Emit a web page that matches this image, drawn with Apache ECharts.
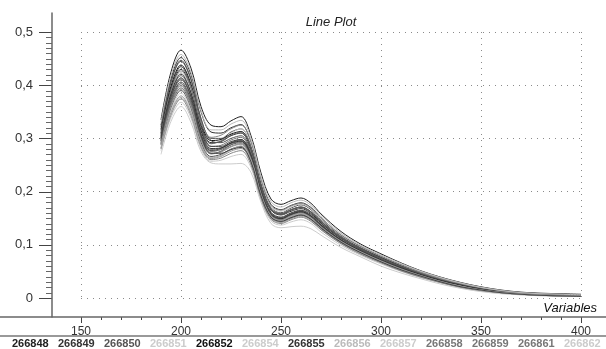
<!DOCTYPE html>
<html>
<head>
<meta charset="utf-8">
<script src="https://cdn.jsdelivr.net/npm/echarts@6/dist/echarts.min.js"></script>
<style>
html,body{margin:0;padding:0;background:#fff;}
#chart{width:606px;height:349px;}
</style>
</head>
<body>
<div id="chart"></div>
<script>
// ---- data ----
const wavelengths = [190,195,200,205,210,215,220,225,230,235,240,245,250,255,260,265,270,280,290,300,310,320,330,340,350,360,370,380,390,400];

const s266848 = [0.335,0.425,0.466,0.432,0.360,0.325,0.322,0.333,0.341,0.305,0.235,0.186,0.176,0.183,0.188,0.178,0.158,0.125,0.101,0.083,0.066,0.051,0.039,0.029,0.021,0.015,0.011,0.009,0.008,0.007];
const s266849 = [0.325,0.412,0.452,0.420,0.350,0.312,0.310,0.320,0.326,0.292,0.222,0.176,0.166,0.174,0.179,0.170,0.151,0.119,0.097,0.079,0.063,0.049,0.037,0.027,0.019,0.013,0.010,0.008,0.007,0.006];
const s266850 = [0.318,0.405,0.445,0.410,0.338,0.300,0.300,0.312,0.318,0.287,0.216,0.170,0.160,0.169,0.175,0.166,0.147,0.116,0.094,0.077,0.061,0.047,0.035,0.026,0.018,0.013,0.009,0.007,0.006,0.005];
const s266851 = [0.312,0.390,0.424,0.392,0.322,0.290,0.296,0.310,0.318,0.290,0.220,0.172,0.163,0.171,0.177,0.168,0.150,0.120,0.098,0.080,0.064,0.050,0.038,0.028,0.020,0.014,0.010,0.008,0.007,0.006];
const s266852 = [0.315,0.398,0.438,0.402,0.330,0.296,0.298,0.308,0.313,0.282,0.212,0.167,0.158,0.166,0.171,0.162,0.144,0.114,0.093,0.076,0.060,0.046,0.035,0.025,0.018,0.012,0.009,0.007,0.006,0.005];
const s266854 = [0.270,0.332,0.360,0.330,0.275,0.254,0.252,0.252,0.253,0.236,0.180,0.140,0.132,0.134,0.135,0.130,0.118,0.095,0.077,0.060,0.047,0.036,0.026,0.018,0.012,0.008,0.006,0.004,0.003,0.003];
const s266855 = [0.310,0.392,0.430,0.395,0.325,0.292,0.294,0.305,0.310,0.279,0.209,0.165,0.156,0.163,0.168,0.159,0.141,0.112,0.091,0.074,0.058,0.045,0.034,0.024,0.017,0.012,0.009,0.007,0.006,0.005];
const s266856 = [0.294,0.366,0.398,0.366,0.302,0.275,0.279,0.290,0.296,0.267,0.200,0.158,0.150,0.158,0.163,0.155,0.138,0.110,0.090,0.073,0.058,0.045,0.034,0.025,0.018,0.012,0.009,0.007,0.005,0.004];
const s266857 = [0.285,0.353,0.385,0.352,0.290,0.264,0.268,0.279,0.284,0.256,0.191,0.151,0.143,0.150,0.155,0.147,0.130,0.103,0.084,0.067,0.053,0.040,0.030,0.021,0.015,0.010,0.007,0.005,0.004,0.003];
const s266858 = [0.302,0.382,0.418,0.384,0.316,0.285,0.287,0.297,0.302,0.272,0.203,0.160,0.151,0.159,0.164,0.155,0.138,0.110,0.089,0.072,0.057,0.044,0.033,0.024,0.017,0.012,0.008,0.006,0.005,0.004];
const s266859 = [0.298,0.377,0.412,0.377,0.309,0.279,0.282,0.291,0.296,0.266,0.199,0.157,0.148,0.156,0.161,0.152,0.135,0.107,0.087,0.070,0.055,0.042,0.031,0.022,0.016,0.011,0.008,0.006,0.005,0.004];
const s266861 = [0.292,0.366,0.400,0.366,0.300,0.272,0.275,0.285,0.290,0.261,0.195,0.154,0.146,0.153,0.158,0.150,0.133,0.106,0.086,0.069,0.054,0.042,0.031,0.022,0.015,0.011,0.008,0.006,0.004,0.004];
const s266862 = [0.277,0.339,0.368,0.338,0.280,0.257,0.259,0.266,0.270,0.245,0.184,0.145,0.137,0.143,0.147,0.140,0.124,0.099,0.080,0.064,0.050,0.038,0.028,0.019,0.013,0.009,0.006,0.005,0.004,0.003];
const s266863 = [0.296,0.372,0.406,0.372,0.306,0.277,0.281,0.292,0.298,0.268,0.201,0.159,0.150,0.158,0.163,0.154,0.137,0.109,0.088,0.071,0.056,0.043,0.032,0.023,0.016,0.011,0.008,0.006,0.005,0.004];
const s266864 = [0.290,0.362,0.395,0.362,0.298,0.271,0.276,0.288,0.294,0.266,0.199,0.157,0.149,0.157,0.162,0.153,0.136,0.108,0.088,0.071,0.056,0.043,0.032,0.023,0.016,0.011,0.008,0.006,0.005,0.004];
const s266865 = [0.288,0.358,0.390,0.357,0.293,0.266,0.270,0.280,0.285,0.257,0.192,0.152,0.144,0.151,0.156,0.148,0.131,0.104,0.085,0.068,0.053,0.041,0.030,0.021,0.015,0.010,0.007,0.005,0.004,0.003];
const s266866 = [0.282,0.349,0.380,0.348,0.287,0.262,0.266,0.276,0.281,0.254,0.190,0.150,0.142,0.149,0.154,0.146,0.129,0.103,0.083,0.067,0.052,0.040,0.029,0.021,0.014,0.010,0.007,0.005,0.004,0.003];
const s266867 = [0.280,0.344,0.374,0.343,0.284,0.260,0.263,0.272,0.277,0.250,0.187,0.148,0.140,0.147,0.152,0.144,0.128,0.102,0.082,0.066,0.051,0.039,0.029,0.020,0.014,0.010,0.007,0.005,0.004,0.003];
const s266868 = [0.308,0.393,0.435,0.398,0.322,0.285,0.285,0.294,0.298,0.270,0.204,0.161,0.152,0.160,0.165,0.157,0.140,0.112,0.091,0.074,0.059,0.046,0.035,0.025,0.018,0.013,0.009,0.007,0.006,0.005];
const s266869 = [0.300,0.376,0.410,0.380,0.316,0.290,0.295,0.306,0.312,0.282,0.212,0.167,0.158,0.166,0.171,0.162,0.144,0.114,0.093,0.075,0.059,0.046,0.034,0.025,0.018,0.013,0.009,0.007,0.006,0.005];
const s266870 = [0.322,0.408,0.447,0.412,0.336,0.296,0.292,0.300,0.305,0.276,0.210,0.166,0.157,0.165,0.170,0.161,0.143,0.113,0.092,0.075,0.059,0.046,0.034,0.025,0.017,0.012,0.009,0.007,0.006,0.005];
const s266871 = [0.306,0.389,0.427,0.396,0.330,0.302,0.306,0.318,0.325,0.294,0.222,0.174,0.165,0.173,0.178,0.169,0.150,0.118,0.096,0.078,0.062,0.048,0.036,0.027,0.019,0.013,0.010,0.008,0.006,0.005];
const s266872 = [0.304,0.384,0.421,0.386,0.314,0.281,0.282,0.291,0.295,0.266,0.199,0.157,0.149,0.157,0.162,0.154,0.137,0.109,0.089,0.072,0.057,0.044,0.033,0.024,0.017,0.012,0.008,0.006,0.005,0.004];
const s266873 = [0.295,0.369,0.403,0.370,0.304,0.276,0.279,0.288,0.292,0.263,0.197,0.156,0.147,0.155,0.160,0.151,0.134,0.107,0.087,0.070,0.055,0.042,0.031,0.022,0.016,0.011,0.008,0.006,0.005,0.004];
const s266874 = [0.289,0.360,0.392,0.360,0.297,0.271,0.274,0.284,0.289,0.260,0.195,0.154,0.146,0.154,0.159,0.150,0.133,0.106,0.086,0.069,0.054,0.042,0.031,0.022,0.015,0.011,0.008,0.006,0.004,0.004];
const s266875 = [0.281,0.346,0.377,0.346,0.287,0.263,0.268,0.279,0.286,0.259,0.194,0.153,0.145,0.153,0.158,0.150,0.133,0.106,0.086,0.069,0.054,0.041,0.030,0.022,0.015,0.010,0.007,0.005,0.004,0.003];
const s266876 = [0.300,0.379,0.414,0.378,0.306,0.272,0.272,0.279,0.283,0.256,0.192,0.152,0.144,0.151,0.156,0.148,0.132,0.105,0.085,0.068,0.053,0.041,0.030,0.021,0.015,0.010,0.007,0.005,0.004,0.003];
const s266877 = [0.330,0.418,0.458,0.424,0.352,0.316,0.316,0.327,0.334,0.300,0.229,0.181,0.171,0.179,0.184,0.174,0.155,0.122,0.099,0.081,0.065,0.050,0.038,0.028,0.020,0.014,0.010,0.008,0.007,0.006];

const sampleNames = ['266848','266849','266850','266851','266852','266854','266855','266856','266857','266858','266859','266861','266862','266863','266864','266865','266866','266867','266868','266869','266870','266871','266872','266873','266874','266875','266876','266877'];
const spectra = [s266848,s266849,s266850,s266851,s266852,s266854,s266855,s266856,s266857,s266858,s266859,s266861,s266862,s266863,s266864,s266865,s266866,s266867,s266868,s266869,s266870,s266871,s266872,s266873,s266874,s266875,s266876,s266877];

const xRange = [150, 400];
const yRange = [0, 0.5];
const titleText = 'Line Plot';
const xAxisName = 'Variables';

// ---- styles ----
const sampleColors = ['#222','#333','#555','#ccc','#111','#ccc','#333','#bbb','#ccc','#777','#777','#777','#ccc','#444','#666','#555','#999','#888','#444','#666','#555','#888','#333','#666','#999','#aaa','#444','#bbb'];

const chart = echarts.init(document.getElementById('chart'), null, {renderer:'canvas'});

const yFmt = v => (Math.abs(v) < 1e-9 ? '0' : v.toFixed(1).replace('.', ','));
const sans = '"Liberation Sans", Arial, sans-serif';

const series = spectra.map((arr, i) => ({
  name: sampleNames[i],
  type: 'line',
  xAxisIndex: 0,
  yAxisIndex: 0,
  data: wavelengths.map((w, j) => [w, arr[j]]),
  showSymbol: false,
  smooth: 0.35,
  lineStyle: { width: 1, color: sampleColors[i] },
  itemStyle: { color: sampleColors[i] },
  silent: true,
  animation: false
}));

const baseGraphics = [
  { type: 'text', x: 331, y: 22, style: { text: titleText, font: 'italic 13px ' + sans, fill: '#222', align: 'center', verticalAlign: 'middle' } },
  { type: 'text', x: 597, y: 308, style: { text: xAxisName, font: 'italic 13px ' + sans, fill: '#111', align: 'right', verticalAlign: 'middle' } },
  { type: 'line', shape: { x1: 0, y1: 336, x2: 606, y2: 336 }, style: { stroke: '#999', lineWidth: 2 } }
];
for (let i = 0; i < 13; i++) {
  baseGraphics.push({ type: 'text', x: 12 + i * 46, y: 343.5, style: { text: sampleNames[i], font: 'bold 11px ' + sans, fill: sampleColors[i], align: 'left', verticalAlign: 'middle' } });
}

const dotted = { color: '#8a8a8a', width: 1, type: [1, 5] };
const hiddenVal = { type: 'value', show: false, min: 0, max: 1 };
const frameLine = { show: true, onZero: false, lineStyle: { color: '#666', width: 1.5 } };

chart.setOption({
  animation: false,
  backgroundColor: '#fff',
  grid: [
    { left: 81, top: 32, width: 500, height: 266 },   // 0 data
    { left: 52, top: 13, width: 10, height: 304 },    // 1 y frame line
    { left: 0, top: 13, width: 606, height: 304 }     // 2 x frame line
  ],
  xAxis: [
    { gridIndex: 0, type: 'value', min: xRange[0], max: xRange[1], interval: 50, position: 'bottom', offset: 19,
      axisLine: { show: false, onZero: false }, axisTick: { show: false },
      axisLabel: { show: true, margin: 9, color: '#333', fontSize: 12, fontFamily: sans },
      splitLine: { show: true, lineStyle: dotted } },
    { gridIndex: 2, type: 'value', min: 0, max: 1, position: 'bottom',
      axisLine: frameLine, axisTick: { show: false }, axisLabel: { show: false }, splitLine: { show: false } },
    Object.assign({ gridIndex: 1 }, hiddenVal)
  ],
  yAxis: [
    { gridIndex: 0, type: 'value', min: yRange[0], max: yRange[1], interval: 0.1, position: 'left', offset: 29,
      axisLine: { show: false, onZero: false }, axisTick: { show: false },
      axisLabel: { show: true, margin: 19, color: '#333', fontSize: 13, fontFamily: sans, formatter: yFmt },
      splitLine: { show: true, lineStyle: dotted } },
    { gridIndex: 1, type: 'value', min: 0, max: 1, position: 'left',
      axisLine: frameLine, axisTick: { show: false }, axisLabel: { show: false }, splitLine: { show: false } },
    Object.assign({ gridIndex: 2 }, hiddenVal)
  ],
  graphic: baseGraphics,
  series: series
});

// tick marks placed through the data grid's own scales
const tickEls = [];
const axisX = 52, axisY = 317;
for (let v = xRange[0]; v <= xRange[1]; v += 10) {
  const px = Math.round(chart.convertToPixel({ gridIndex: 0 }, [v, 0])[0]) + 0.5;
  const len = (v % 50 === 0) ? 6 : 3;
  tickEls.push({ type: 'line', silent: true, shape: { x1: px, y1: axisY, x2: px, y2: axisY + len }, style: { stroke: '#444', lineWidth: 1 } });
}
for (let i = 0; i <= 50; i++) {
  const v = i / 100;
  const py = Math.round(chart.convertToPixel({ gridIndex: 0 }, [xRange[0], v])[1]) + 0.5;
  const len = (i % 10 === 0) ? 13 : 6;
  tickEls.push({ type: 'line', silent: true, shape: { x1: axisX - len, y1: py, x2: axisX, y2: py }, style: { stroke: (i % 10 === 0) ? '#444' : '#666', lineWidth: 1 } });
}
chart.setOption({ graphic: baseGraphics.concat(tickEls) });
</script>
</body>
</html>
